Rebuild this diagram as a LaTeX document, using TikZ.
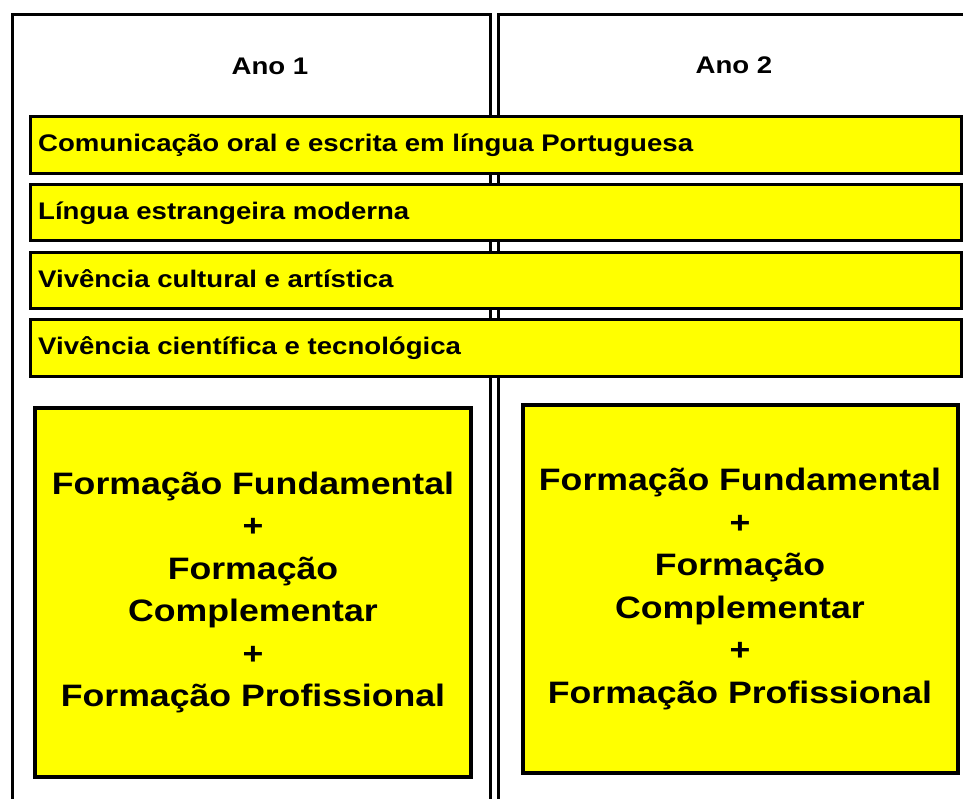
\documentclass[tikz,border=0pt]{standalone}
\usepackage{fontspec}
\setmainfont{Liberation Sans}
\newfontfamily\widefont[FakeStretch=1.15]{Liberation Sans}
\definecolor{barYellow}{HTML}{FFFF00}
\tikzset{
  column/.style={draw=black, line width=3pt, fill=white},
  barbox/.style={draw=black, line width=3pt, fill=barYellow},
  bigbox/.style={draw=black, line width=4pt, fill=barYellow},
  bartext/.style={anchor=base west, inner sep=0pt, font=\widefont\bfseries\fontsize{24}{28}\selectfont},
  bigtext/.style={align=center, inner sep=0pt, font=\widefont\bfseries\fontsize{31}{42.5}\selectfont},
  yeartext/.style={anchor=base, inner sep=0pt, font=\widefont\bfseries\fontsize{24}{28}\selectfont}
}
\begin{document}
\begin{tikzpicture}[x=1pt,y=-1pt]
\useasboundingbox (0,0) rectangle (963,798);
\clip (0,0) rectangle (963,798);
\fill[white] (0,0) rectangle (963,798);
% columns
\draw[column] (12,14) rectangle (490,820);
\draw[column] (498,14) rectangle (985,820);
\node[yeartext] (ano1) at (270,74) {Ano 1};
\node[yeartext] (ano2) at (734,73) {Ano 2};
% bars
\draw[barbox] (30,116) rectangle (961,173);
\node[bartext] (b1) at (38,151) {Comunicação oral e escrita em língua Portuguesa};
\draw[barbox] (30,184) rectangle (961,240);
\node[bartext] (b2) at (38,219) {Língua estrangeira moderna};
\draw[barbox] (30,252) rectangle (961,308);
\node[bartext] (b3) at (38,287) {Vivência cultural e artística};
\draw[barbox] (30,319) rectangle (961,376);
\node[bartext] (b4) at (38,354) {Vivência científica e tecnológica};
% big boxes
\draw[bigbox] (35,408) rectangle (471,777);
\node[bigtext] (t1) at (253,592.5) {Formação Fundamental\\+\\Formação\\Complementar\\+\\Formação Profissional};
\draw[bigbox] (523,405) rectangle (958,773);
\node[bigtext] (t2) at (740,589) {Formação Fundamental\\+\\Formação\\Complementar\\+\\Formação Profissional};
\end{tikzpicture}
\end{document}
